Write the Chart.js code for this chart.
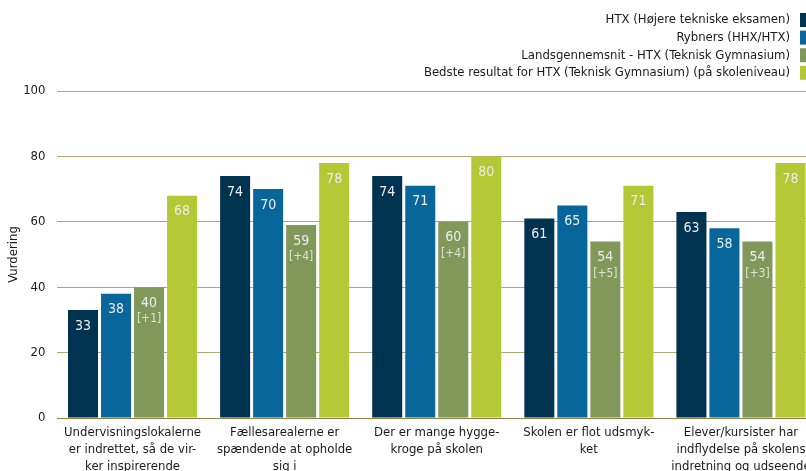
<!DOCTYPE html>
<html><head><meta charset="utf-8">
<script src="https://cdn.jsdelivr.net/npm/chart.js@4/dist/chart.umd.min.js"></script>
<style>
html,body{margin:0;padding:0;width:806px;height:471px;overflow:hidden;background:#fff;}
#wrap{width:817px;height:471px;}
</style></head><body>
<div id="wrap"><canvas id="c" width="817" height="471"></canvas></div>
<script>
const FONT = "'DejaVu Sans Condensed', 'DejaVu Sans', sans-serif";
const categories = [
  ["Undervisningslokalerne", "er indrettet, så de vir-", "ker inspirerende"],
  ["Fællesarealerne er", "spændende at opholde", "sig i"],
  ["Der er mange hygge-", "kroge på skolen"],
  ["Skolen er flot udsmyk-", "ket"],
  ["Elever/kursister har", "indflydelse på skolens", "indretning og udseende"]
];
const seriesNames = [
  "HTX (Højere tekniske eksamen)",
  "Rybners (HHX/HTX)",
  "Landsgennemsnit - HTX (Teknisk Gymnasium)",
  "Bedste resultat for HTX (Teknisk Gymnasium) (på skoleniveau)"
];
const htx = [33, 74, 74, 61, 63];
const rybners = [38, 70, 71, 65, 58];
const landsgennemsnit = [40, 59, 60, 54, 54];
const bedste = [68, 78, 80, 71, 78];
const landsDiff = ["[+1]", "[+4]", "[+4]", "[+5]", "[+3]"];
const yTicks = [0, 20, 40, 60, 80, 100];
const colors = ["#003350", "#09669a", "#80995a", "#b4c734"];

const barLabels = {
  id: 'barLabels',
  afterDatasetsDraw(chart) {
    const ctx = chart.ctx;
    ctx.save();
    ctx.textAlign = 'center';
    ctx.textBaseline = 'middle';
    chart.data.datasets.forEach((ds, i) => {
      const meta = chart.getDatasetMeta(i);
      meta.data.forEach((bar, j) => {
        ctx.fillStyle = '#ececec';
        ctx.font = "14px " + FONT;
        ctx.fillText(String(ds.data[j]), bar.x, bar.y + 16);
        if (i === 2) {
          ctx.fillStyle = '#dde3d2';
          ctx.font = "12px " + FONT;
          ctx.fillText(landsDiff[j], bar.x, bar.y + 32);
        }
      });
    });
    ctx.restore();
  }
};

const rightLegend = {
  id: 'rightLegend',
  afterDraw(chart) {
    const ctx = chart.ctx;
    ctx.save();
    ctx.font = "13px " + FONT;
    ctx.textAlign = 'right';
    ctx.textBaseline = 'middle';
    chart.data.datasets.forEach((ds, i) => {
      const cy = 20 + i * 17.6;
      ctx.fillStyle = '#1a1a1a';
      ctx.fillText(ds.label, 790, cy);
      ctx.fillStyle = ds.backgroundColor;
      ctx.fillRect(800, cy - 7, 14, 14);
    });
    ctx.restore();
  }
};

new Chart(document.getElementById('c'), {
  type: 'bar',
  data: {
    labels: categories,
    datasets: [
      { label: seriesNames[0], data: htx, backgroundColor: colors[0] },
      { label: seriesNames[1], data: rybners, backgroundColor: colors[1] },
      { label: seriesNames[2], data: landsgennemsnit, backgroundColor: colors[2] },
      { label: seriesNames[3], data: bedste, backgroundColor: colors[3] }
    ]
  },
  options: {
    responsive: false,
    animation: false,
    devicePixelRatio: 1,
    categoryPercentage: 132 / 152,
    barPercentage: 30 / 33,
    layout: { padding: { top: 91, left: 0, right: 0, bottom: 0 } },
    plugins: { legend: { display: false }, tooltip: { enabled: false } },
    scales: {
      x: {
        grid: { display: false, drawTicks: false },
        border: { display: false },
        ticks: { color: '#1a1a1a', font: { family: FONT, size: 13, lineHeight: 1.3 }, padding: 6, maxRotation: 0, autoSkip: false },
        afterFit(s) { s.height = 53; }
      },
      y: {
        min: 0, max: 100,
        afterBuildTicks(s) { s.ticks = yTicks.map(v => ({ value: v })); },
        grid: {
          drawTicks: false,
          color: (c) => c.tick && c.tick.value === 0 ? '#8e7d45' : '#b3a575',
          lineWidth: 1
        },
        border: { display: false },
        ticks: { color: '#1a1a1a', font: { family: FONT, size: 13 }, padding: 11 },
        title: { display: true, text: 'Vurdering', color: '#1a1a1a', font: { family: FONT, size: 13 }, padding: { top: 6, bottom: 0 } },
        afterFit(s) { s.width = 56.5; }
      }
    }
  },
  plugins: [barLabels, rightLegend]
});
</script>
</body></html>
